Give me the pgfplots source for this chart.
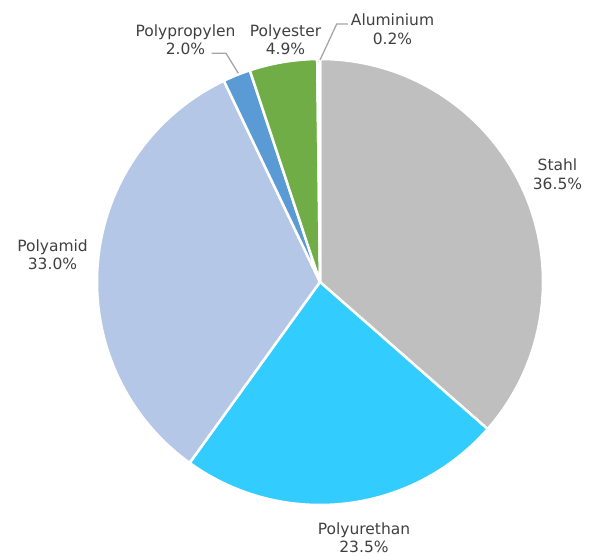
\documentclass[border=0pt]{standalone}
\usepackage{pgfplots}
\pgfplotsset{compat=1.18}
\usepackage{pgfplotstable}
\usepackage{fontspec}
\setmainfont{DejaVu Sans}
\definecolor{pc0}{HTML}{BFBFBF}
\definecolor{pc1}{HTML}{33CCFF}
\definecolor{pc2}{HTML}{B4C7E7}
\definecolor{pc3}{HTML}{5B9BD5}
\definecolor{pc4}{HTML}{70AD47}
\definecolor{pc5}{HTML}{A5A5A5}
\definecolor{txt}{HTML}{404040}
\definecolor{lead}{HTML}{A6A6A6}
\tikzset{lbl/.style={font=\fontsize{15.5bp}{18.5bp}\selectfont, text=txt, inner sep=0pt, anchor=base}}
\pgfplotstableread{
label value
Stahl 36.5
Polyurethan 23.5
Polyamid 33.0
Polypropylen 2.0
Polyester 4.9
Aluminium 0.2
}\piedata
\begin{document}
\begin{tikzpicture}
\def\pietotal{0}
\pgfplotstableforeachcolumnelement{value}\of\piedata\as\v{\pgfmathsetmacro\tmp{\pietotal+\v}\xdef\pietotal{\tmp}}
\xdef\curang{90}
\pgfplotstableforeachcolumnelement{value}\of\piedata\as\v{%
  \pgfmathsetmacro\tmp{\curang-360*\v/\pietotal}%
  \expandafter\xdef\csname aS\pgfplotstablerow\endcsname{\curang}%
  \expandafter\xdef\csname aE\pgfplotstablerow\endcsname{\tmp}%
  \xdef\curang{\tmp}}
\begin{axis}[
  scale only axis, width=592bp, height=556bp,
  xmin=0, xmax=592, ymin=0, ymax=556,
  hide axis, clip=false,
]
\path (rel axis cs:0,0) rectangle (rel axis cs:1,1);
\pgfplotsinvokeforeach{0,...,5}{
  \filldraw[fill=pc#1, draw=white, line width=2.5bp, line join=round]
    (axis cs:320,274) -- ++(\csname aS#1\endcsname:223bp)
    arc[start angle=\csname aS#1\endcsname, end angle=\csname aE#1\endcsname, radius=223bp] -- cycle;
}
% leader lines
\draw[lead, line width=1.3bp] (axis cs:211.7,502.7) -- (axis cs:226,502.7) -- (axis cs:238.3,482.7);
\draw[lead, line width=1.3bp] (axis cs:348,532) -- (axis cs:336.7,532) -- (axis cs:320,496);
% labels
\node[lbl] at (axis cs:557.5,385) {Stahl};
\node[lbl] at (axis cs:557.5,366.5) {36.5\%};
\node[lbl] at (axis cs:364,21.8) {Polyurethan};
\node[lbl] at (axis cs:364,3.5) {23.5\%};
\node[lbl] at (axis cs:52.5,304.3) {Polyamid};
\node[lbl] at (axis cs:52.5,286) {33.0\%};
\node[lbl] at (axis cs:185.5,519.3) {Polypropylen};
\node[lbl] at (axis cs:185.5,501) {2.0\%};
\node[lbl] at (axis cs:285.5,519.3) {Polyester};
\node[lbl] at (axis cs:285.5,501) {4.9\%};
\node[lbl] at (axis cs:392.5,530) {Aluminium};
\node[lbl] at (axis cs:392.5,511.5) {0.2\%};
\end{axis}
\end{tikzpicture}
\end{document}
